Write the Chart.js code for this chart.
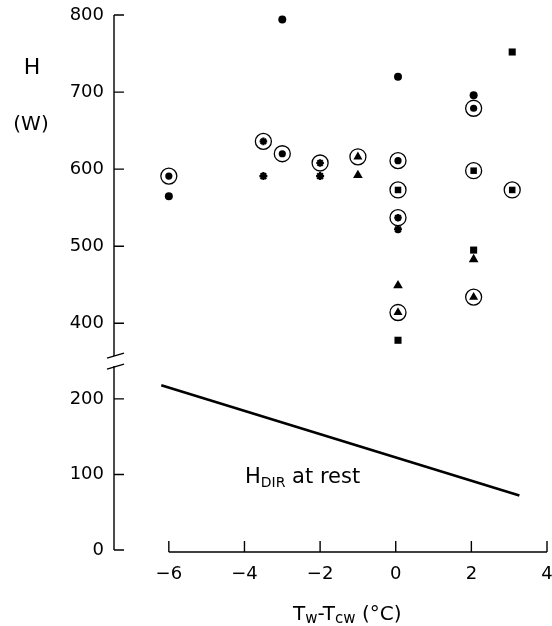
<!DOCTYPE html>
<html>
<head>
<meta charset="utf-8">
<script src="https://cdn.jsdelivr.net/npm/chart.js@4/dist/chart.umd.min.js"></script>
<style>
  html, body { margin: 0; padding: 0; background: #fff; overflow: hidden; }
  #wrap { width: 552px; height: 626px; position: relative; }
  canvas { display: block; }
</style>
</head>
<body>
<div id="wrap"><canvas id="chart"></canvas></div>
<script>
// Tick labels (real units)
const xTicks = [-6, -4, -2, 0, 2, 4];
const yTicksReal = [0, 100, 200, 400, 500, 600, 700, 800];

// Heat loss H (W) vs Tw - Tcw, plain markers and circled markers
const dotX = [-6, -3, 0.06, 2.06];
const dotY = [565, 794, 720, 696];
const dotCircX = [-6, -3, 0.06, 2.06];
const dotCircY = [591, 620, 611, 679];

const squareX = [0.06, 2.06, 3.08];
const squareY = [378, 495, 752];
const squareCircX = [0.06, 2.06, 3.08];
const squareCircY = [573, 598, 573];

const triX = [-1, 0.06, 2.06];
const triY = [592, 449, 483];
const triCircX = [-1, 0.06, 2.06];
const triCircY = [616, 414, 434];

const starX = [-3.5, -2, 0.06];
const starY = [591, 591, 522];
const starCircX = [-3.5, -2, 0.06];
const starCircY = [636, 608, 537];

// H_DIR at rest
const restX = [-6.2, 3.27];
const restY = [218, 72];

// broken axis: 200..400 is cut out, upper part slightly stretched like the original
const BREAK_AT = 250; // axis units
const UPPER_K = 1.02;
function toAxis(v) { return v <= 300 ? v : 300 + (v - 400) * UPPER_K; }
function fromAxis(v) { return v <= 250 ? v : Math.round(400 + (v - 300) / UPPER_K); }

function pts(xs, ys) {
  return xs.map((x, i) => ({ x: x, y: toAxis(ys[i]) }));
}

function marks(xs, ys, style, r, extra) {
  return Object.assign({
    data: pts(xs, ys),
    pointStyle: style,
    pointRadius: r,
    backgroundColor: '#000',
    borderColor: '#000',
    pointBorderWidth: 0,
    showLine: false,
  }, extra || {});
}

function rings(xs, ys) {
  return {
    data: pts(xs, ys),
    pointStyle: 'circle',
    pointRadius: 8,
    backgroundColor: 'rgba(0,0,0,0)',
    borderColor: '#000',
    pointBorderWidth: 1.3,
    showLine: false,
  };
}

const FONT = "'DejaVu Sans', sans-serif";

// draw text pieces in sequence, some as subscripts
function drawRich(ctx, x, y, parts) {
  let cx = x;
  for (const p of parts) {
    ctx.font = p.size + 'px ' + FONT;
    ctx.fillText(p.t, cx, y + (p.dy || 0));
    cx += ctx.measureText(p.t).width;
  }
}

const handAxes = {
  id: 'handAxes',
  afterDraw(chart) {
    const { ctx, chartArea, scales: { x, y } } = chart;
    ctx.save();
    ctx.strokeStyle = '#000';
    ctx.fillStyle = '#000';
    ctx.lineWidth = 1.4;

    // y axis with break
    const ax = chartArea.left;
    const yTop = y.getPixelForValue(y.max);
    const yBot = y.getPixelForValue(0);
    const brk = y.getPixelForValue(BREAK_AT);
    ctx.beginPath();
    ctx.moveTo(ax, yTop); ctx.lineTo(ax, brk - 5);
    ctx.moveTo(ax, brk + 5); ctx.lineTo(ax, yBot);
    for (const t of yTicksReal) {
      const py = y.getPixelForValue(toAxis(t));
      ctx.moveTo(ax, py); ctx.lineTo(ax + 10, py);
    }
    ctx.stroke();
    ctx.beginPath();
    ctx.moveTo(ax - 7, brk - 3); ctx.lineTo(ax + 10, brk - 8);
    ctx.moveTo(ax - 7, brk + 8); ctx.lineTo(ax + 10, brk + 3);
    ctx.stroke();

    // x axis, only from -6 to 4
    const axY = chartArea.bottom + 2;
    ctx.beginPath();
    ctx.moveTo(x.getPixelForValue(xTicks[0]), axY);
    ctx.lineTo(x.getPixelForValue(xTicks[xTicks.length - 1]), axY);
    for (const t of xTicks) {
      const px = x.getPixelForValue(t);
      ctx.moveTo(px, axY); ctx.lineTo(px, axY - 11);
    }
    ctx.stroke();

    // labels
    ctx.textBaseline = 'alphabetic';
    ctx.textAlign = 'center';
    ctx.font = '22px ' + FONT;
    ctx.fillText('H', 32, 74);
    ctx.font = '20px ' + FONT;
    ctx.fillText('(W)', 31, 130);

    ctx.textAlign = 'left';
    drawRich(ctx, 293, 620, [
      { t: 'T', size: 20 },
      { t: 'w', size: 15, dy: 3 },
      { t: '-T', size: 20 },
      { t: 'cw', size: 15, dy: 3 },
      { t: ' (°C)', size: 20 },
    ]);
    drawRich(ctx, 245, 483, [
      { t: 'H', size: 21 },
      { t: 'DIR', size: 14, dy: 4 },
      { t: ' at rest', size: 21 },
    ]);
    ctx.restore();
  }
};

new Chart(document.getElementById('chart'), {
  type: 'scatter',
  data: {
    datasets: [
      {
        data: pts(restX, restY),
        showLine: true,
        borderColor: '#000',
        borderWidth: 2.6,
        pointRadius: 0,
      },
      marks(dotX, dotY, 'circle', 4),
      marks(dotCircX, dotCircY, 'circle', 3.6),
      rings(dotCircX, dotCircY),
      marks(squareX, squareY, 'rect', 5),
      marks(squareCircX, squareCircY, 'rect', 4.6),
      rings(squareCircX, squareCircY),
      marks(triX, triY, 'triangle', 5.6),
      marks(triCircX, triCircY, 'triangle', 5.2),
      rings(triCircX, triCircY),
      marks(starX, starY, 'star', 4, { pointBorderWidth: 2.2 }),
      marks(starCircX, starCircY, 'star', 3.8, { pointBorderWidth: 2.2 }),
      rings(starCircX, starCircY),
    ],
  },
  options: {
    responsive: true,
    maintainAspectRatio: false,
    animation: false,
    events: [],
    layout: { autoPadding: false, padding: { top: 15, right: 5, left: 0, bottom: 0 } },
    plugins: { legend: { display: false }, tooltip: { enabled: false } },
    scales: {
      x: {
        type: 'linear',
        min: -7.45,
        max: 4,
        grid: { display: false, drawTicks: false },
        border: { display: false },
        afterBuildTicks: (s) => { s.ticks = xTicks.map(v => ({ value: v })); },
        afterFit: (s) => { s.height = 76; s.paddingLeft = 0; s.paddingRight = 0; },
        ticks: {
          color: '#000',
          padding: 14,
          font: { size: 18, family: FONT },
          maxRotation: 0,
          callback: (v) => String(v).replace('-', '\u2212'),
        },
      },
      y: {
        min: 0,
        max: toAxis(yTicksReal[yTicksReal.length - 1]),
        grid: { display: false, drawTicks: false },
        border: { display: false },
        afterBuildTicks: (s) => { s.ticks = yTicksReal.map(v => ({ value: toAxis(v) })); },
        afterFit: (s) => { s.width = 114; s.paddingTop = 0; s.paddingBottom = 0; },
        ticks: {
          color: '#000',
          padding: 10,
          font: { size: 18, family: FONT },
          callback: (v) => fromAxis(v),
        },
      },
    },
  },
  plugins: [handAxes],
});
</script>
</body>
</html>
